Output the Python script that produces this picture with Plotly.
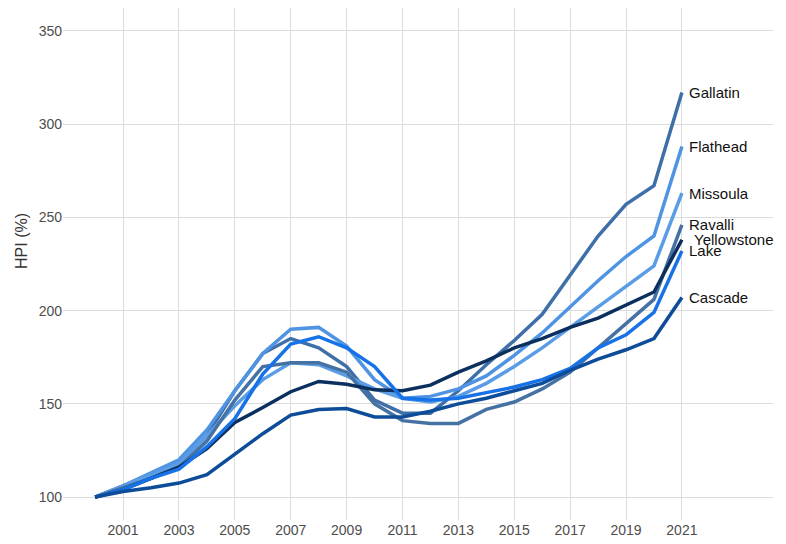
import plotly.graph_objects as go

years = list(range(2000, 2022))

gallatin    = [100, 106, 111, 118, 133, 157, 177, 185, 180, 170, 152, 145, 145, 157, 171, 184, 198, 219, 240, 257, 267, 317]
flathead    = [100, 106, 113, 120, 136, 157, 177, 190, 191, 181, 163, 153, 154, 158, 165, 176, 188, 202, 216, 229, 240, 288]
missoula    = [100, 106, 112, 118, 133, 149, 163, 172, 171, 165, 158, 153, 151, 154, 161, 170, 180, 191, 202, 213, 224, 263]
ravalli     = [100, 105, 110, 116, 130, 152, 170, 172, 172, 167, 150, 141, 139.5, 139.5, 147, 151, 158, 167, 180, 193, 206, 246]
yellowstone = [100, 104, 110, 116, 126, 140, 148, 156.5, 162, 160.5, 157.5, 157, 160, 167, 173, 180, 185, 191, 196, 203, 210, 238]
lake        = [100, 104, 110, 115, 127, 142, 166, 182, 186, 180, 170, 153, 152, 153, 156, 159, 163, 169, 180, 187, 199, 232]
cascade     = [100, 103, 105, 107.5, 112, 123, 134, 144, 147, 147.5, 143, 143, 146, 150, 153, 157, 161, 168, 174, 179, 185, 207]

names  = ["Gallatin", "Flathead", "Missoula", "Ravalli", "Yellowstone", "Lake", "Cascade"]
series = [gallatin, flathead, missoula, ravalli, yellowstone, lake, cascade]
colors = ["#3f6fa8", "#4f94e3", "#5a9de6", "#4672a3", "#0b2f5e", "#1672e6", "#0c4c98"]
label_xshift = [5, 5, 5, 5, 10, 5, 5]

xticks = list(range(2001, 2022, 2))
yticks = [100, 150, 200, 250, 300, 350]

fig = go.Figure()
for n, s, c in zip(names, series, colors):
    fig.add_trace(go.Scatter(x=years, y=s, mode="lines", name=n,
                             line=dict(color=c, width=3.5), showlegend=False))

for n, s, xs in zip(names, series, label_xshift):
    fig.add_annotation(x=years[-1], y=s[-1], text=n, showarrow=False,
                       xanchor="left", yanchor="middle", xshift=xs,
                       font=dict(size=15, color="#111111"))

# y-axis title
fig.add_annotation(xref="paper", yref="paper", x=0, y=0.545, xshift=-41,
                   text="HPI (%)", textangle=-90, showarrow=False,
                   xanchor="center", yanchor="middle",
                   font=dict(size=16, color="#333333"))

fig.update_layout(
    width=786, height=544,
    margin=dict(l=55, r=21, t=0, b=32),
    paper_bgcolor="white", plot_bgcolor="white",
    font=dict(family="Liberation Sans, Arial, sans-serif", color="#4d4d4d"),
    xaxis=dict(range=[1998.85, 2024.26], tickvals=xticks, ticktext=[str(t) for t in xticks],
               showgrid=True, gridcolor="#dcdcdc", gridwidth=1.3, zeroline=False,
               showline=False, ticks="", tickfont=dict(size=14, color="#4d4d4d")),
    yaxis=dict(range=[87.7, 362.3], tickvals=yticks, showgrid=True, gridcolor="#dcdcdc",
               gridwidth=1.3, zeroline=False, showline=False, ticks="",
               tickfont=dict(size=14, color="#4d4d4d")),
)

fig.write_html("out.html")
